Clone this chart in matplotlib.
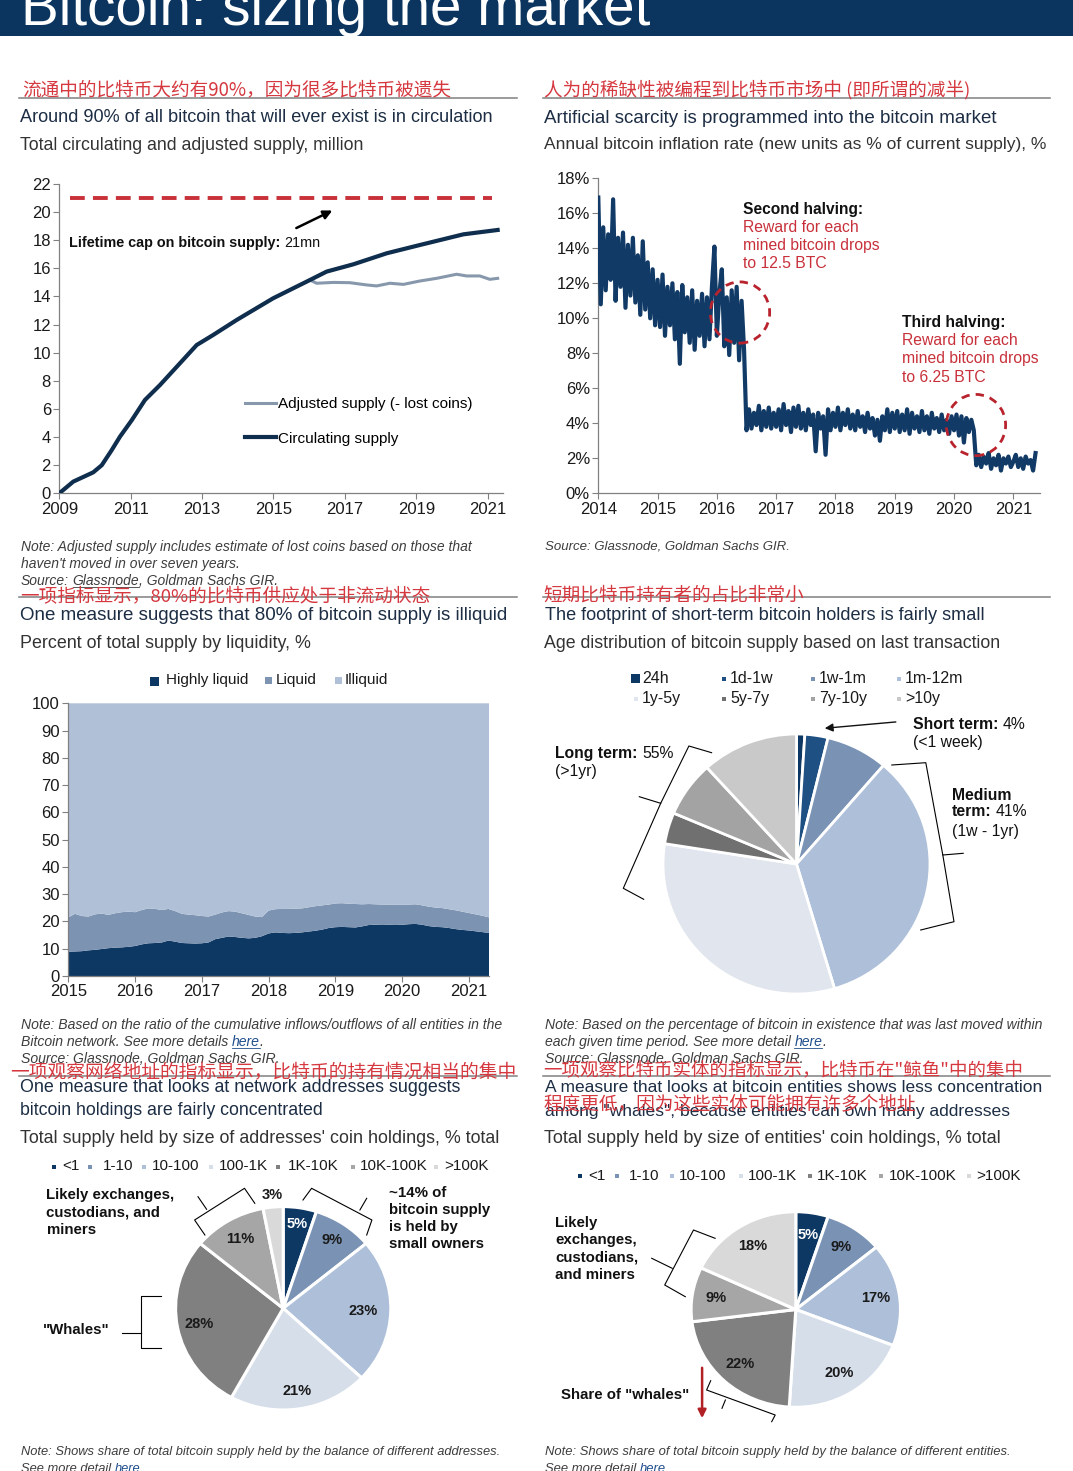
import matplotlib
matplotlib.use("Agg")
import matplotlib.pyplot as plt
import numpy as np
from matplotlib.lines import Line2D
from matplotlib.patches import Ellipse, Rectangle, FancyArrowPatch

plt.rcParams['font.family'] = ['Liberation Sans', 'DejaVu Sans']
CJK = ['Noto Sans CJK SC', 'DejaVu Sans']

# ---------------- data ----------------
# panel 1: supply, million
circ_years = [2009.0, 2009.39, 2009.95, 2010.19, 2010.47, 2010.7, 2011.03, 2011.4, 2011.82,
              2012.29, 2012.85, 2013.31, 2013.97, 2014.99, 2016.02, 2016.49, 2017.24,
              2018.17, 2019.1, 2020.32, 2021.28]
circ_supply = [0, 0.83, 1.49, 2.0, 3.08, 4.03, 5.2, 6.64, 7.7, 9.0, 10.55, 11.26, 12.33,
               13.87, 15.17, 15.77, 16.29, 17.07, 17.66, 18.42, 18.73]
adj_years = [2016.02, 2016.21, 2016.68, 2017.14, 2017.61, 2017.89, 2018.26, 2018.64,
             2019.1, 2019.57, 2020.13, 2020.41, 2020.78, 2021.06, 2021.28]
adj_supply = [15.17, 14.94, 15.0, 14.98, 14.82, 14.75, 14.94, 14.86, 15.1, 15.29, 15.58,
              15.46, 15.46, 15.22, 15.29]
supply_cap = 21

# panel 2: annual inflation rate %, half-monthly readings from 2014
infl_start = 2014.0
infl = [
    16.9, 10.8, 15.2, 11.6, 14.8, 12.2, 16.8, 11.0, 14.6, 11.8, 14.9, 10.6,
    14.2, 11.3, 14.6, 10.9, 13.6, 10.2, 14.4, 10.5, 13.2, 10.0, 12.8, 9.6,
    12.2, 9.5, 12.5, 9.0, 11.8, 9.6, 12.0, 8.8, 11.5, 7.4, 11.9, 9.2,
    11.2, 8.6, 11.6, 8.2, 11.0, 9.0, 11.4, 8.4, 11.2, 8.8, 11.8, 14.1,
    9.0, 11.4, 12.8, 8.4, 11.2, 7.9, 11.6, 8.6, 11.8, 7.6, 11.0, 8.2,
    3.6, 4.8, 3.7, 4.6, 3.9, 5.0, 3.6, 4.7, 3.8, 4.9, 3.7, 4.6,
    3.8, 4.8, 3.6, 5.1, 3.9, 4.7, 3.5, 4.9, 3.8, 5.0, 3.7, 4.6,
    3.6, 4.8, 3.9, 4.5, 2.4, 4.6, 3.7, 4.4, 2.2, 4.8, 3.6, 4.6,
    3.8, 4.9, 3.6, 4.6, 3.9, 4.8, 3.7, 4.5, 3.6, 4.7, 3.8, 4.4,
    3.5, 4.6, 3.7, 4.3, 3.3, 4.2, 3.0, 4.4, 3.6, 4.8, 3.5, 4.6,
    3.7, 4.7, 3.5, 4.5, 3.6, 4.8, 3.4, 4.6, 3.7, 4.4, 3.5, 4.7,
    3.6, 4.4, 3.4, 4.6, 3.7, 4.3, 3.5, 4.5, 3.6, 4.2, 3.4, 4.4,
    3.6, 4.5, 3.3, 4.4, 2.9, 4.3, 3.5, 4.2, 3.6, 1.6, 2.2, 1.5,
    2.1, 1.7, 2.3, 1.4, 2.0, 1.6, 2.2, 1.3, 2.0, 1.7, 2.1, 1.5,
    1.8, 2.2, 1.5, 2.0, 1.4, 2.1, 1.7, 1.9, 1.3, 2.3,
]
halvings = [(2016.39, 10.33), (2020.37, 3.9)]

# panel 3: % of supply by liquidity, every 0.1 year from 2015.0
liq_years = np.linspace(2015.0, 2021.3, 64)
highly_liquid = [
    8.9, 9.0, 9.1, 9.4, 9.6, 9.9, 10.2, 10.4, 10.5, 10.7,
    11.0, 11.6, 12.0, 12.1, 12.3, 13.0, 12.6, 12.1, 12.0, 11.9,
    12.0, 12.3, 13.5, 14.0, 14.5, 14.3, 14.0, 13.8, 14.0, 14.6,
    15.6, 16.0, 15.8, 15.7, 15.8, 16.0, 16.3, 16.6, 17.0, 17.6,
    17.9, 18.0, 17.9, 17.8, 18.2, 18.7, 18.8, 18.7, 18.8, 18.9,
    18.8, 19.0, 19.1, 18.8, 18.3, 18.0, 17.9, 17.6, 17.2, 16.9,
    16.7, 16.4, 16.1, 15.8]
liquid = [
    12.6, 13.8, 12.9, 12.4, 13.0, 13.0, 12.2, 12.6, 12.9, 12.9,
    12.4, 12.6, 12.8, 12.5, 11.9, 11.6, 11.2, 10.7, 10.5, 10.4,
    10.0, 9.5, 9.0, 9.3, 9.3, 9.3, 9.0, 8.6, 7.8, 7.0,
    8.4, 8.5, 8.8, 8.9, 8.9, 8.8, 8.9, 9.0, 8.9, 8.6,
    8.7, 8.7, 8.6, 8.6, 8.1, 7.7, 7.5, 7.5, 7.4, 7.2,
    7.3, 7.2, 7.2, 7.1, 7.1, 7.1, 7.0, 6.9, 6.9, 6.7,
    6.4, 6.2, 6.0, 5.7]
illiquid = [100 - a - b for a, b in zip(highly_liquid, liquid)]

# panel 4: age distribution, %
age_labels = ['24h', '1d-1w', '1w-1m', '1m-12m', '1y-5y', '5y-7y', '7y-10y', '>10y']
age_share = [1.0, 2.8, 7.5, 34.1, 32.1, 3.9, 6.9, 11.7]

# panels 5 and 6: supply by holding size, %
size_labels = ['<1', '1-10', '10-100', '100-1K', '1K-10K', '10K-100K', '>100K']
address_share = [5, 9, 23, 21, 28, 11, 3]
entity_share = [5, 9, 17, 20, 22, 9, 18]

# ---------------- style ----------------
HEAD = '#0b355e'
NAVY = '#0e3864'
LINE_NAVY = '#0f2e4e'
RED = '#c8303a'
CNRED = '#d5383f'
TITLE = '#1c2d44'
SUB = '#333333'
NOTE = '#3d3d3d'
LINK = '#1f4e8c'
RULE = '#808080'
age_colors = ['#0e3864', '#1e5083', '#7a93b5', '#adbfd9', '#e1e5ee', '#707070', '#a3a3a3', '#c9c9c9']
size_colors = ['#0e3864', '#7a93b5', '#adbfd9', '#d6deea', '#808080', '#a6a6a6', '#d9d9d9']

W, H = 1073, 1471
fig = plt.figure(figsize=(W / 100, H / 100), dpi=100)
fig.patch.set_facecolor('white')
R = fig.canvas.get_renderer()


def fxy(x, y):
    return x / W, 1 - y / H


def put(x, y, s, size=11, w=None, **kw):
    kw.setdefault('va', 'center')
    t = fig.text(x / W, 1 - y / H, s, fontsize=size, **kw)
    if w:
        t.set_fontsize(size * w / t.get_window_extent(R).width)
    return t


def line(pts, **kw):
    kw.setdefault('color', 'black')
    kw.setdefault('lw', 0.8)
    fig.add_artist(Line2D([p[0] / W for p in pts], [1 - p[1] / H for p in pts], **kw))


def runs(x, y, parts, size=11, **kw):
    sp = size * 0.278 * 100 / 72
    for s, extra in parts:
        if s.startswith(' '):
            x += sp
            s = s.lstrip()
        st = {**kw, **extra}
        ul = st.pop('ul', False)
        t = put(x, y, s, size, **st)
        bb = t.get_window_extent(R)
        if ul:
            line([(bb.x0, H - bb.y0 - 1.5), (bb.x1, H - bb.y0 - 1.5)],
                 color=st.get('color', 'k'), lw=0.6)
        x = bb.x1
    return x


def square(x, y, s, color):
    fig.add_artist(Rectangle(((x - s / 2) / W, 1 - (y + s / 2) / H), s / W, s / H,
                             transform=fig.transFigure, color=color, lw=0))


def add_ax(l, t, r, b):
    return fig.add_axes([l / W, 1 - b / H, (r - l) / W, (b - t) / H])


def style(ax):
    for s in ['top', 'right']:
        ax.spines[s].set_visible(False)
    for s in ['left', 'bottom']:
        ax.spines[s].set_color('#808080')
        ax.spines[s].set_linewidth(0.9)
    ax.tick_params(length=4, width=0.8, color='#808080', labelsize=12,
                   labelcolor='#1a1a1a', pad=2)


def note(x, y, lines, w, size=9):
    kw = dict(style='italic', color=NOTE)
    probe = put(x, y, ''.join(p[0] for p in lines[0]), size, w=w, **kw)
    size = probe.get_fontsize()
    probe.remove()
    for i, parts in enumerate(lines):
        runs(x, y + i * 17.2, parts, size, **kw)


# ---------------- header ----------------
fig.add_artist(Rectangle((0, 1 - 35.7 / H), 1, 35.7 / H, transform=fig.transFigure,
                         color=HEAD, lw=0))
put(21.3, 25, 'Bitcoin: sizing the market', 36, w=630, va='baseline', color='white')

# section rules
for y in [97.7, 596.7, 1075.7]:
    line([(19, y), (516.5, y)], color=RULE, lw=1.1)
    line([(543, y), (1049.7, y)], color=RULE, lw=1.1)

titles = [
    (22.4, 89.3, '流通中的比特币大约有90%，因为很多比特币被遗失', 428, 'cn'),
    (20, 117.3, 'Around 90% of all bitcoin that will ever exist is in circulation', 474.8, 'en'),
    (20, 145, 'Total circulating and adjusted supply, million', 345.7, 'sub'),
    (543.6, 90, '人为的稀缺性被编程到比特币市场中 (即所谓的减半)', 424.4, 'cn'),
    (543.6, 118.3, 'Artificial scarcity is programmed into the bitcoin market', 452.9, 'en'),
    (543.6, 145, 'Annual bitcoin inflation rate (new units as % of current supply), %', 503.4, 'sub'),
    (20, 596.7, '一项指标显示，80%的比特币供应处于非流动状态', 408.7, 'cn'),
    (20, 616, 'One measure suggests that 80% of bitcoin supply is illiquid', 488, 'en'),
    (20, 643.3, 'Percent of total supply by liquidity, %', 291.6, 'sub'),
    (543.6, 595, '短期比特币持有者的占比非常小', 260.7, 'cn'),
    (544.6, 616, 'The footprint of short-term bitcoin holders is fairly small', 441.6, 'en'),
    (543.6, 643.3, 'Age distribution of bitcoin supply based on last transaction', 458.7, 'sub'),
    (10.3, 1071.7, '一项观察网络地址的指标显示，比特币的持有情况相当的集中', 504.5, 'cn'),
    (20, 1087.3, 'One measure that looks at network addresses suggests', 441.4, 'en'),
    (20, 1110.7, 'bitcoin holdings are fairly concentrated', 303.7, 'en'),
    (20, 1138.3, "Total supply held by size of addresses' coin holdings, % total", 478.6, 'sub'),
    (543.6, 1070, '一项观察比特币实体的指标显示，比特币在"鲸鱼"中的集中', 478.6, 'cn'),
    (544.6, 1087.3, 'A measure that looks at bitcoin entities shows less concentration', 494.8, 'en'),
    (543.6, 1103.3, '程度更低，因为这些实体可能拥有许多个地址', 372.3, 'cn'),
    (544.6, 1111.7, 'among "whales", because entities can own many addresses', 463.9, 'en'),
    (543.6, 1138.3, "Total supply held by size of entities' coin holdings, % total", 456.4, 'sub'),
]
for x, y, s, w, kind in titles:
    if kind == 'cn':
        put(x, y, s, 13, w=w, color=CNRED, family=CJK, zorder=5)
    elif kind == 'en':
        put(x, y, s, 13, w=w, color=TITLE, zorder=4)
    else:
        put(x, y, s, 12, w=w, color=SUB, zorder=4)

# ---------------- panel 1: supply ----------------
ax = add_ax(59.3, 184, 503, 493.3)
style(ax)
circ, = ax.plot(circ_years, circ_supply, color=LINE_NAVY, lw=3.0, zorder=3,
                label='Circulating supply')
adj, = ax.plot(adj_years, adj_supply, color='#8798ac', lw=2.2, zorder=2,
               label='Adjusted supply (- lost coins)')
ax.axhline(supply_cap, xmin=0.024, xmax=0.975, color=RED, lw=2.8, ls=(0, (3.8, 2.1)))
ax.annotate('', xy=(2016.72, 20.2), xytext=(2015.57, 18.78),
            arrowprops=dict(arrowstyle='-|>', color='black', lw=1.8, mutation_scale=13))
ax.set_xlim(2009, 2021.43)
ax.set_ylim(0, 22)
ax.set_xticks(range(2009, 2022, 2))
ax.set_yticks(range(0, 23, 2))
ax.legend(handles=[adj, circ], loc='center left', bbox_to_anchor=fxy(245, 421.5),
          bbox_transform=fig.transFigure, frameon=False, fontsize=11, handlelength=2.0,
          handletextpad=0.15, labelspacing=1.35, borderpad=0, borderaxespad=0)
runs(69.3, 242.7, [('Lifetime cap on bitcoin supply:', {'weight': 'bold'}), (' 21mn', {})],
     10.4, color='#111111')

note(20.7, 546.7, [
    [('Note: Adjusted supply includes estimate of lost coins based on those that', {})],
    [("haven't moved in over seven years.", {})],
    [('Source:', {}), (' Glassnode', {'ul': True}), (', Goldman Sachs GIR.', {})],
], 451.8)

# ---------------- panel 2: inflation ----------------
ax = add_ax(598.3, 178.3, 1040, 493.3)
style(ax)
infl_x = infl_start + np.arange(len(infl)) / 24
ax.plot(infl_x, infl, color='#113a66', lw=3.0, zorder=3)
for cx, cy in halvings:
    ax.add_patch(Ellipse((cx, cy), 1.0, 3.5, fill=False, ec='#b8232e', lw=2.0,
                         ls=(0, (3, 2.2)), zorder=4))
ax.set_xlim(2014, 2021.45)
ax.set_ylim(0, 18)
ax.set_xticks(range(2014, 2022))
ax.set_yticks(range(0, 19, 2))
ax.set_yticklabels([f'{v}%' for v in range(0, 19, 2)])

put(743.3, 209.3, 'Second halving:', 11, w=120.7, weight='bold', color='#111111')
for i, s in enumerate(['Reward for each', 'mined bitcoin drops', 'to 12.5 BTC']):
    put(743.3, 227.7 + i * 18, s, 11.3, color=RED)
put(901.7, 322.7, 'Third halving:', 11, w=104, weight='bold', color='#111111')
for i, s in enumerate(['Reward for each', 'mined bitcoin drops', 'to 6.25 BTC']):
    put(901.7, 340.7 + i * 18.3, s, 11.3, color=RED)

note(544.6, 546.7, [[('Source: Glassnode, Goldman Sachs GIR.', {})]], 247)

# ---------------- panel 3: liquidity ----------------
ax = add_ax(68.3, 703.3, 489, 976)
style(ax)
ax.stackplot(liq_years, highly_liquid, liquid, illiquid,
             colors=['#0e3864', '#7c93b2', '#b0c0d7'], lw=0)
ax.set_xlim(liq_years[0], liq_years[-1])
ax.set_ylim(0, 100)
ax.set_xticks(range(2015, 2022))
ax.set_yticks(range(0, 101, 10))
for mx, ms, tx, lab, c in [(154, 9, 166, 'Highly liquid', '#0e3864'),
                           (268.6, 7, 275.5, 'Liquid', '#7c93b2'),
                           (338, 7, 344.4, 'Illiquid', '#b0c0d7')]:
    square(mx, 681, ms, c)
    put(tx, 680, lab, 11, color='#1a1a1a')

note(20.7, 1025, [
    [('Note: Based on the ratio of the cumulative inflows/outflows of all entities in the', {})],
    [('Bitcoin network. See more details', {}), (' here', {'ul': True, 'color': LINK}), ('.', {})],
    [('Source: Glassnode, Goldman Sachs GIR.', {})],
], 485.5)

# ---------------- panel 4: age pie ----------------
ax = add_ax(796.5 - 133.5, 864 - 130, 796.5 + 133.5, 864 + 130)
ax.pie(age_share, colors=age_colors, startangle=90, counterclock=False,
       wedgeprops=dict(edgecolor='white', linewidth=2))
ax.set_aspect('auto')
ax.set_xlim(-1, 1)
ax.set_ylim(-1, 1)
ax.axis('off')

leg_x = [642, 730, 818.7, 905]
leg_y = [678.3, 698.3]
for i, (lab, c) in enumerate(zip(age_labels, age_colors)):
    col, row = i % 4, i // 4
    s = 9 if i == 0 else 4
    square(leg_x[col] - (7 if i == 0 else 6), leg_y[row] + 0.5, s, c)
    put(leg_x[col], leg_y[row], lab, 11.5, color='#1a1a1a')

runs(912.9, 724, [('Short term:', {'weight': 'bold'}), (' 4%', {})], 11.3, color='#111111')
put(912.9, 742.7, '(<1 week)', 11.3, color='#111111')
runs(555.3, 753.3, [('Long term:', {'weight': 'bold'}), (' 55%', {})], 11.3, color='#111111')
put(555.3, 771.7, '(>1yr)', 11.3, color='#111111')
put(952, 795, 'Medium', 11.3, weight='bold', color='#111111')
runs(952, 811.7, [('term:', {'weight': 'bold'}), (' 41%', {})], 11.3, color='#111111')
put(952, 831.7, '(1w - 1yr)', 11.3, color='#111111')
fig.add_artist(FancyArrowPatch(fxy(898.6, 721.7), fxy(822, 728.5), transform=fig.transFigure,
                               arrowstyle='-|>', color='#111111', lw=1.0, mutation_scale=12))
line([(711.6, 752.7), (688.9, 746), (660.7, 803.3), (639.3, 796.7)])
line([(660.7, 803.3), (623.3, 888.3), (643.7, 899.3)])
line([(891.8, 765), (925.8, 762.7), (942.8, 855), (963.2, 853.3)])
line([(942.8, 855), (954, 921.7), (920.7, 930)])

note(544.6, 1025, [
    [('Note: Based on the percentage of bitcoin in existence that was last moved within', {})],
    [('each given time period. See more detail', {}), (' here', {'ul': True, 'color': LINK}), ('.', {})],
    [('Source: Glassnode, Goldman Sachs GIR.', {})],
], 500)


# ---------------- panels 5, 6: holding size pies ----------------
def size_pie(cx, cy, rx, ry, shares, dists):
    ax = add_ax(cx - rx, cy - ry, cx + rx, cy + ry)
    wedges, _ = ax.pie(shares, colors=size_colors, startangle=90, counterclock=False,
                       wedgeprops=dict(edgecolor='white', linewidth=2.2))
    ax.set_aspect('auto')
    ax.set_xlim(-1, 1)
    ax.set_ylim(-1, 1)
    ax.axis('off')
    for k, (wdg, v, d) in enumerate(zip(wedges, shares, dists)):
        a = np.deg2rad((wdg.theta1 + wdg.theta2) / 2)
        ax.text(d * np.cos(a), d * np.sin(a), f'{v}%', ha='center', va='center',
                fontsize=10.5, weight='bold', color='white' if k == 0 else '#1a1a1a')


size_pie(283.2, 1308.3, 107.6, 101.7, address_share, [0.84, 0.81, 0.74, 0.82, 0.8, 0.79, 1.12])
size_pie(795.8, 1309.5, 104.7, 97.8, entity_share, [0.77] * 7)

for mxs, txs, y in [([54, 90, 144, 211, 278, 353, 435.6], [62, 102.6, 151.5, 218.7, 287.5, 359.9, 444], 1166),
                    ([579.6, 616.7, 671.6, 741, 809.5, 880.9, 969], [588, 629, 679, 747.7, 816.4, 888.4, 976], 1175.5)]:
    for mx, tx, lab, c in zip(mxs, txs, size_labels, size_colors):
        square(mx, y + 0.5, 4, c)
        put(tx, y, lab, 11, color='#1a1a1a')

bold = dict(weight='bold', color='#111111')
for i, s in enumerate(['Likely exchanges,', 'custodians, and', 'miners']):
    put(46.5, 1195 + i * 17.5, s, 10.8, **bold)
for i, s in enumerate(['~14% of', 'bitcoin supply', 'is held by', 'small owners']):
    put(389, 1193.3 + i * 17, s, 10.8, **bold)
put(43, 1330, '"Whales"', 10.8, **bold)
line([(161, 1296), (141, 1296), (141, 1348.3), (161, 1348.3)])
line([(122, 1332.7), (141, 1332.7)])
line([(204.9, 1235), (194.6, 1220), (244.5, 1188.3), (254.8, 1203.3)])
line([(206.6, 1209.3), (198, 1196.7)])
line([(303, 1200), (311.6, 1188.3), (371.9, 1220), (366.7, 1235)])
line([(359.9, 1210), (366.7, 1198.3)])

for i, s in enumerate(['Likely', 'exchanges,', 'custodians,', 'and miners']):
    put(554.9, 1222.7 + i * 17.3, s, 10.8, **bold)
put(560.7, 1395, 'Share of "whales"', 10.8, **bold)
line([(715.1, 1238.3), (693.5, 1230), (664.7, 1285), (685.3, 1296.7)])
line([(672.2, 1268.3), (651.7, 1258.3)])
line([(710.7, 1380.7), (706.6, 1390), (775.2, 1415), (771.7, 1421.7)])
line([(725.4, 1400), (722, 1408.3)])
fig.add_artist(FancyArrowPatch(fxy(702.1, 1365), fxy(702.1, 1421), transform=fig.transFigure,
                               arrowstyle='-|>', color='#b02025', lw=1.8, mutation_scale=12))

note(20.7, 1451.7, [
    [('Note: Shows share of total bitcoin supply held by the balance of different addresses.', {})],
    [('See more detail', {}), (' here', {'ul': True, 'color': LINK}), ('.', {})],
], 482.7)
note(544.6, 1451.7, [
    [('Note: Shows share of total bitcoin supply held by the balance of different entities.', {})],
    [('See more detail', {}), (' here', {'ul': True, 'color': LINK}), ('.', {})],
], 468)

fig.savefig('out.png', dpi=100, facecolor='white')
